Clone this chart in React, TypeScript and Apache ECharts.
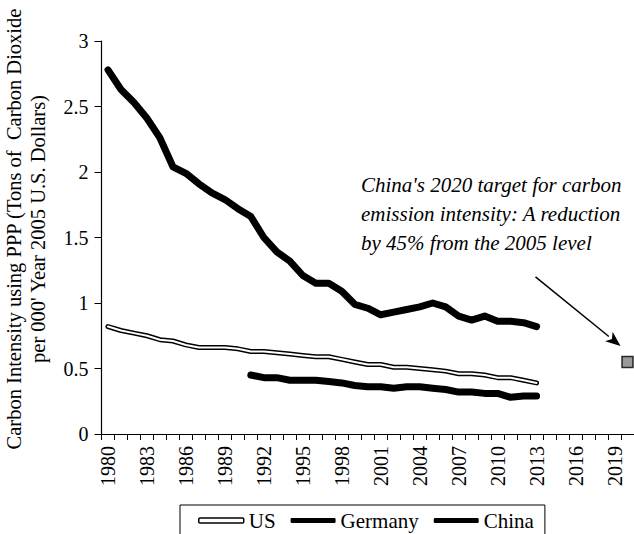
import React, { useEffect, useRef } from "react";
import * as echarts from "echarts";

const years: string[] = [];
for (let y = 1980; y <= 2020; y++) years.push(String(y));

const usValues = [
  0.82, 0.79, 0.77, 0.75, 0.72, 0.71, 0.68, 0.66, 0.66, 0.66, 0.65, 0.63,
  0.63, 0.62, 0.61, 0.6, 0.59, 0.59, 0.57, 0.55, 0.53, 0.53, 0.51, 0.51,
  0.5, 0.49, 0.48, 0.46, 0.46, 0.45, 0.43, 0.43, 0.41, 0.39,
];
const germanyStart = 1991;
const germanyValues = [
  0.45, 0.43, 0.43, 0.41, 0.41, 0.41, 0.4, 0.39, 0.37, 0.36, 0.36, 0.35,
  0.36, 0.36, 0.35, 0.34, 0.32, 0.32, 0.31, 0.31, 0.28, 0.29, 0.29,
];
const chinaValues = [
  2.78, 2.63, 2.53, 2.41, 2.26, 2.04, 1.99, 1.91, 1.84, 1.79, 1.72, 1.66,
  1.5, 1.39, 1.32, 1.21, 1.15, 1.15, 1.09, 0.99, 0.96, 0.91, 0.93, 0.95,
  0.97, 1.0, 0.97, 0.9, 0.87, 0.9, 0.86, 0.86, 0.85, 0.82,
];
const targetYear = "2020";
const targetValue = 0.55;

const yTickValues = [0, 0.5, 1, 1.5, 2, 2.5, 3];
const annotationLines = [
  "China's 2020 target for carbon",
  "emission intensity: A reduction",
  "by 45% from the 2005 level",
];
const yAxisTitle = [
  "Carbon Intensity using PPP (Tons of  Carbon Dioxide",
  "per 000' Year 2005 U.S. Dollars)",
];

const FONT = "'Liberation Serif', 'Times New Roman', serif";

function pad(values: number[], startYear: number): (number | null)[] {
  return years.map((y) => {
    const i = Number(y) - startYear;
    return i >= 0 && i < values.length ? values[i] : null;
  });
}

export default function App() {
  const ref = useRef<HTMLDivElement>(null);
  useEffect(() => {
    document.body.style.margin = "0";
    const chart = echarts.init(ref.current!, null, { renderer: "svg" });
    const us = pad(usValues, 1980);
    const de = pad(germanyValues, germanyStart);
    const cn = pad(chinaValues, 1980);
    const target = years.map((y) => (y === targetYear ? targetValue : null));
    const option: any = {
      animation: false,
      grid: { left: 101.5, right: -2, top: 41, bottom: 100, containLabel: false },
      xAxis: {
        type: "category",
        data: years,
        boundaryGap: true,
        axisLine: { lineStyle: { color: "#000", width: 1.2 } },
        axisTick: { show: true, interval: 0, length: 6, lineStyle: { color: "#000", width: 1 } },
        axisLabel: {
          interval: 2,
          rotate: 90,
          fontSize: 20,
          color: "#000",
          fontFamily: FONT,
          margin: 12,
        },
        splitLine: { show: false },
      },
      yAxis: {
        type: "value",
        min: yTickValues[0],
        max: yTickValues[yTickValues.length - 1],
        interval: 0.5,
        axisLine: { show: true, lineStyle: { color: "#000", width: 1.2 } },
        axisTick: { show: true, length: 7, lineStyle: { color: "#000", width: 1 } },
        axisLabel: { fontSize: 20, color: "#000", fontFamily: FONT, margin: 13 },
        splitLine: { show: false },
      },
      legend: {
        left: 180,
        top: 505,
        padding: [5, 11, 12, 18],
        itemGap: 15,
        itemWidth: 45,
        itemHeight: 5,
        borderColor: "#000",
        borderWidth: 1,
        borderRadius: 0,
        textStyle: { fontSize: 21, color: "#000", fontFamily: FONT },
        data: [
          {
            name: "US",
            icon: "roundRect",
            itemStyle: { color: "#fff", borderColor: "#000", borderWidth: 1.5 },
          },
          { name: "Germany", icon: "roundRect", itemStyle: { color: "#000" } },
          { name: "China", icon: "roundRect", itemStyle: { color: "#000" } },
        ],
      },
      series: [
        {
          name: "US",
          type: "line",
          data: us,
          symbol: "none",
          z: 2,
          lineStyle: { color: "#000", width: 5, cap: "round", join: "round" },
          itemStyle: { color: "#000" },
        },
        {
          name: "US-inner",
          type: "line",
          data: us,
          symbol: "none",
          z: 3,
          lineStyle: { color: "#fff", width: 2, cap: "round", join: "round" },
        },
        {
          name: "Germany",
          type: "line",
          data: de,
          symbol: "none",
          z: 2,
          lineStyle: { color: "#000", width: 7, cap: "round", join: "round" },
          itemStyle: { color: "#000" },
        },
        {
          name: "China",
          type: "line",
          data: cn,
          symbol: "none",
          z: 2,
          lineStyle: { color: "#000", width: 7, cap: "round", join: "round" },
          itemStyle: { color: "#000" },
        },
        {
          name: "Target",
          type: "scatter",
          data: target,
          symbol: "rect",
          symbolSize: 11,
          z: 4,
          itemStyle: { color: "#808080", borderColor: "#000", borderWidth: 1.5 },
        },
      ],
    };
    chart.setOption(option);

    const [tx, ty] = chart.convertToPixel({ gridIndex: 0 }, [targetYear, targetValue]) as number[];
    const tip = [tx - 7, ty - 16];
    const start = [tx - 92, ty - 85];
    const dx = tip[0] - start[0];
    const dy = tip[1] - start[1];
    const len = Math.sqrt(dx * dx + dy * dy);
    const ux = dx / len;
    const uy = dy / len;
    const headLen = 15;
    const headW = 6;
    const base = [tip[0] - ux * headLen, tip[1] - uy * headLen];
    chart.setOption({
      graphic: [
        {
          type: "text",
          left: 361,
          top: 170,
          style: {
            text: annotationLines.join("\n"),
            font: `italic 21px ${FONT}`,
            lineHeight: 29,
            fill: "#000",
          },
        },
        {
          type: "line",
          shape: { x1: start[0], y1: start[1], x2: base[0], y2: base[1] },
          style: { stroke: "#000", lineWidth: 1.5 },
        },
        {
          type: "polygon",
          shape: {
            points: [
              tip,
              [base[0] - uy * headW, base[1] + ux * headW],
              [base[0] + ux * 4, base[1] + uy * 4],
              [base[0] + uy * headW, base[1] - ux * headW],
            ],
          },
          style: { fill: "#000" },
        },
        {
          type: "text",
          x: 26,
          y: 229,
          rotation: Math.PI / 2,
          style: {
            text: yAxisTitle.join("\n"),
            font: `20.5px ${FONT}`,
            lineHeight: 24,
            align: "center",
            verticalAlign: "middle",
            fill: "#000",
          },
        },
      ],
    });
    return () => chart.dispose();
  }, []);
  return <div ref={ref} style={{ width: 634, height: 534 }} />;
}
